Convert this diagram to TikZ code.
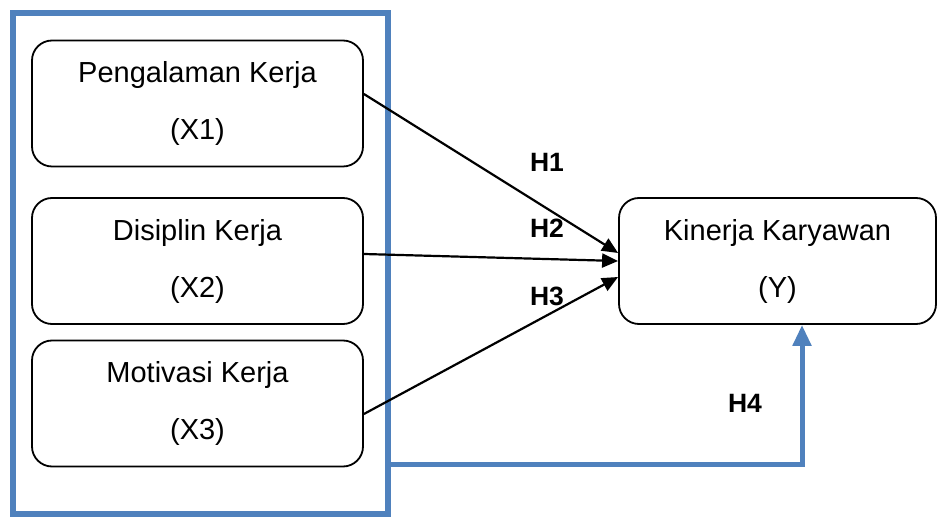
\documentclass[tikz,border=0pt]{standalone}
\usepackage{fontspec}
\setmainfont{Liberation Sans}
\usetikzlibrary{arrows.meta}
\definecolor{frameblue}{RGB}{79,129,189}
\begin{document}
\begin{tikzpicture}[x=1pt,y=-1pt,
  box/.style={draw=black, line width=1.8pt, rounded corners=20pt, minimum width=331pt, minimum height=126pt, align=center, font=\fontsize{29}{57}\selectfont, inner sep=0pt},
  ybox/.style={box, minimum width=317pt},
  hyp/.style={font=\bfseries\fontsize{26.5}{30}\selectfont, inner sep=0pt},
  link/.style={line width=2.2pt, -{Triangle[length=16pt,width=14pt]}},
  bluelink/.style={draw=frameblue, line width=5pt, -{Triangle[length=21pt,width=18pt]}},
  framebox/.style={draw=frameblue, line width=6pt, minimum width=375pt, minimum height=501pt, inner sep=0pt}]
\useasboundingbox (0,0) rectangle (938,518);
\node[framebox] (frame) at (200.5,263.5) {};
\node[box] (X1) at (197.5,103.5) {Pengalaman Kerja\\(X1)};
\node[box] (X2) at (197.5,261) {Disiplin Kerja\\(X2)};
\node[box] (X3) at (197.5,403.5) {Motivasi Kerja\\(X3)};
\node[ybox] (Y) at (777.5,261) {Kinerja Karyawan\\(Y)};
\draw[link] ([yshift=9.5pt]X1.east) -- ([yshift=8pt]Y.west);
\draw[link] ([yshift=7pt]X2.east) -- (Y.west);
\draw[link] ([yshift=-10.5pt]X3.east) -- ([yshift=-16pt]Y.west);
\node[hyp] (H1) at (547,162) {H1};
\node[hyp] (H2) at (547,228) {H2};
\node[hyp] (H3) at (547,296) {H3};
\node[hyp] (H4) at (745,403) {H4};
\coordinate (c) at (802,465);
\draw[bluelink] (frame.east |- c) -- (c) -- (Y.south -| c);
\end{tikzpicture}
\end{document}
